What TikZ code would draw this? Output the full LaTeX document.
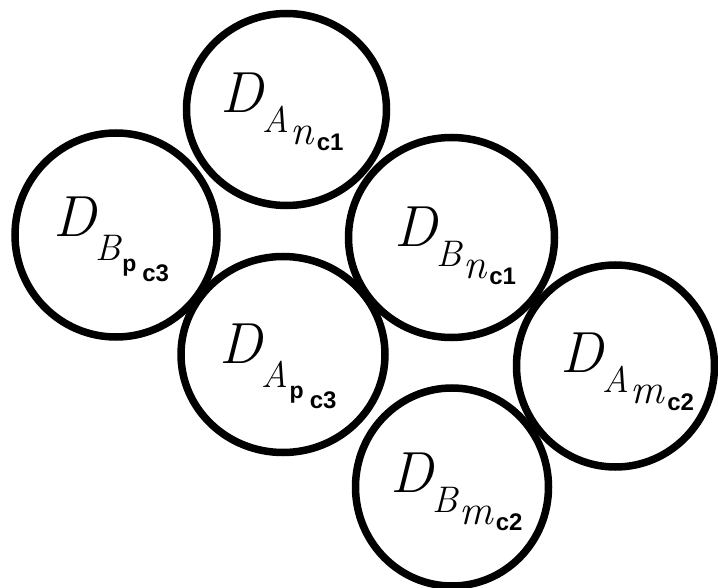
\documentclass[tikz,border=0pt]{standalone}
\usepackage{fontspec}
\setsansfont{Liberation Sans}
\usetikzlibrary{shapes.geometric}
\newcommand\fD{\fontsize{58}{58}\selectfont\rmfamily\itshape}
\newcommand\fS{\fontsize{37}{37}\selectfont\rmfamily\itshape}
\newcommand\fN{\fontsize{42}{42}\selectfont\rmfamily\itshape}
\newcommand\fC{\fontsize{24}{24}\selectfont\sffamily\bfseries}
\newcommand\fP{\fontsize{23}{23}\selectfont\sffamily\bfseries}
\newcommand\lblN[3]{{\fD D}\raisebox{-20pt}{\fS #1}\hspace{1pt}\raisebox{-32pt}{\fN #2}\hspace{3pt}\raisebox{-38pt}{\fC #3}}
\newcommand\lblP[2]{{\fD D}\raisebox{-24pt}{\fS #1}\hspace{1pt}\raisebox{-35pt}{\fP p}\hspace{6pt}\raisebox{-45pt}{\fC #2}}
\begin{document}
\begin{tikzpicture}[x=1pt,y=-1pt,
  disc/.style={ellipse, draw, line width=7.5pt, inner sep=0pt, outer sep=0pt},
  lab/.style={inner sep=0pt, outer sep=0pt, anchor=base west}]
\useasboundingbox (0,0) rectangle (718,588);
\node[disc, minimum width=200pt, minimum height=192pt] (An) at (286.5,109.5) {};
\node[disc, minimum width=202pt, minimum height=204pt] (Bp) at (116,235) {};
\node[disc, minimum width=206pt, minimum height=200pt] (Bn) at (451.5,237.5) {};
\node[disc, minimum width=204pt, minimum height=196pt] (Ap) at (283,354.5) {};
\node[disc, minimum width=198pt, minimum height=202pt] (Am) at (615.5,366) {};
\node[disc, minimum width=193pt, minimum height=198pt] (Bm) at (452,487) {};
\node[lab] (lAn) at (220,113) {\lblN{A}{n}{c1}};
\node[lab] (lBp) at (53,237) {\lblP{B}{c3}};
\node[lab] (lBn) at (394,247) {\lblN{B}{n}{c1}};
\node[lab] (lAp) at (219,363) {\lblP{A}{c3}};
\node[lab] (lAm) at (560,372) {\lblN{A}{m}{c2}};
\node[lab] (lBm) at (390,492) {\lblN{B}{m}{c2}};
\end{tikzpicture}
\end{document}
